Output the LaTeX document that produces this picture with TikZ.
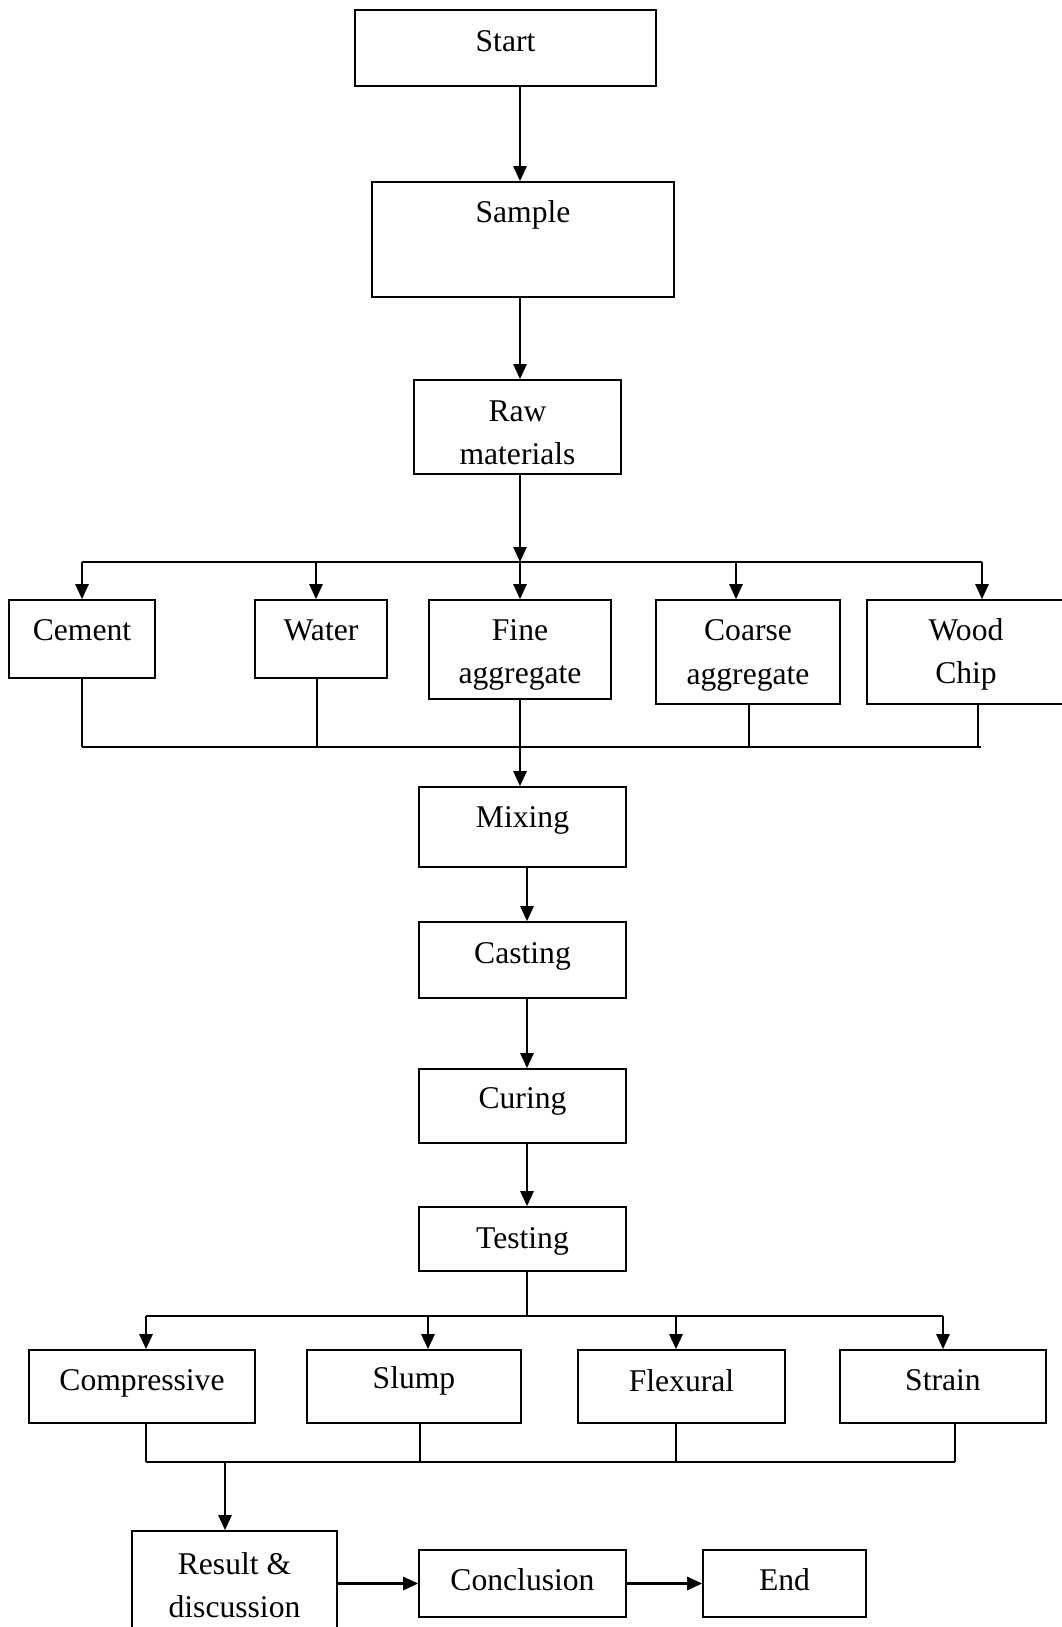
\documentclass[tikz,border=0pt]{standalone}
\usepackage{fontspec}
\setmainfont{Liberation Serif}
\usetikzlibrary{arrows.meta}

\tikzset{
  box/.style={draw, line width=0.9pt, inner sep=0pt, align=center,
    font=\fontsize{18}{24.5}\selectfont, text depth=9pt},
  flow/.style={line width=1.4pt, -{Triangle[length=0.3cm,width=0.26cm]}},
  bus/.style={line width=1.2pt},
  link/.style={line width=0.7pt}
}

\begin{document}
\begin{tikzpicture}[x=0.02cm, y=-0.02cm]
    \useasboundingbox (0,0) rectangle (1062,1627);
    % main column
    \node[box, minimum width=6.02cm, minimum height=1.52cm, text depth=8pt] (start) at (505.5,48) {Start};
    \node[box, minimum width=6.04cm, minimum height=2.30cm, text depth=32pt] (sample) at (523,239.5) {Sample};
    \node[box, minimum width=4.14cm, minimum height=1.88cm, text height=42.7pt, text depth=0pt] (raw) at (517.5,427) {Raw\\materials};
    % materials
    \node[box, minimum width=2.92cm, minimum height=1.56cm, text depth=10pt] (cement) at (82,639) {Cement};
    \node[box, minimum width=2.64cm, minimum height=1.56cm, text depth=10pt] (water) at (321,639) {Water};
    \node[box, minimum width=3.64cm, minimum height=1.98cm, text height=39.2pt, text depth=0pt] (fine) at (520,649.5) {Fine\\aggregate};
    \node[box, minimum width=3.68cm, minimum height=2.08cm, text depth=0pt] (coarse) at (748,652) {Coarse\\aggregate};
    \node[box, minimum width=3.96cm, minimum height=2.08cm, text depth=1pt] (wood) at (966,652) {Wood\\Chip};
    % process
    \node[box, minimum width=4.14cm, minimum height=1.60cm, text depth=11.5pt] (mixing) at (522.5,827) {Mixing};
    \node[box, minimum width=4.14cm, minimum height=1.52cm, text depth=8pt] (casting) at (522.5,960) {Casting};
    \node[box, minimum width=4.14cm, minimum height=1.48cm, text depth=9pt] (curing) at (522.5,1106) {Curing};
    \node[box, minimum width=4.14cm, minimum height=1.28cm, text depth=1pt] (testing) at (522.5,1239) {Testing};
    % tests
    \node[box, minimum width=4.52cm, minimum height=1.46cm, text depth=7pt] (compressive) at (142,1386.5) {Compressive};
    \node[box, minimum width=4.28cm, minimum height=1.46cm, text depth=10.5pt] (slump) at (414,1386.5) {Slump};
    \node[box, minimum width=4.14cm, minimum height=1.46cm, text depth=7pt] (flexural) at (681.5,1386.5) {Flexural};
    \node[box, minimum width=4.12cm, minimum height=1.46cm, text depth=7pt] (strain) at (943,1386.5) {Strain};
    % end
    \node[box, minimum width=4.10cm, minimum height=2.18cm, text depth=1pt] (result) at (234.5,1585.5) {Result \&\\discussion};
    \node[box, minimum width=4.14cm, minimum height=1.34cm, text depth=5pt] (conclusion) at (522.5,1583.5) {Conclusion};
    \node[box, minimum width=3.26cm, minimum height=1.34cm, text depth=5pt] (end) at (784.5,1583.5) {End};

    \coordinate (spine) at (520,0);
    \coordinate (spineb) at (527,0);
    \coordinate (split) at (520,562);
    \coordinate (join) at (520,747);
    \coordinate (split2) at (527,1316);
    \coordinate (join2) at (225,1462);

    \draw[flow] (start.south -| spine) -- (sample.north -| spine);
    \draw[flow] (sample.south -| spine) -- (raw.north -| spine);
    \draw[flow] (raw.south -| spine) -- (split);
    \draw[bus] (cement.north |- split) -- ([xshift=0.32cm]wood.north |- split);
    \foreach \n/\dx in {cement/0, water/-0.1, fine/0, coarse/-0.24, wood/0.32}
      \draw[flow] ([xshift=\dx cm]\n.north |- split) -- ([xshift=\dx cm]\n.north);

    \foreach \n/\dx in {cement/0, water/-0.08, coarse/0.02, wood/0.24}
      \draw[link] ([xshift=\dx cm]\n.south) -- ([xshift=\dx cm]\n.south |- join);
    \draw[link] (cement.south |- join) -- ([xshift=0.30cm]wood.south |- join);
    \draw[link] (fine.south) -- (join);
    \draw[flow] (join) -- (mixing.north -| join);

    \foreach \a/\b in {mixing/casting, casting/curing, curing/testing}
      \draw[flow] (\a.south -| spineb) -- (\b.north -| spineb);

    \draw[link] (testing.south -| spineb) -- (split2);
    \draw[bus] ([xshift=0.08cm]compressive.north |- split2) -- (strain.north |- split2);
    \foreach \n/\dx in {compressive/0.08, slump/0.28, flexural/-0.11, strain/0}
      \draw[flow] ([xshift=\dx cm]\n.north |- split2) -- ([xshift=\dx cm]\n.north);

    \foreach \n/\dx in {compressive/0.08, slump/0.12, flexural/-0.11, strain/0.24}
      \draw[link] ([xshift=\dx cm]\n.south) -- ([xshift=\dx cm]\n.south |- join2);
    \draw[link] ([xshift=0.08cm]compressive.south |- join2) -- ([xshift=0.24cm]strain.south |- join2);
    \draw[flow] (join2) -- (result.north -| join2);

    \draw[flow] (result.east |- conclusion.west) -- (conclusion.west);
    \draw[flow] (conclusion.east) -- (end.west);
\end{tikzpicture}
\end{document}
